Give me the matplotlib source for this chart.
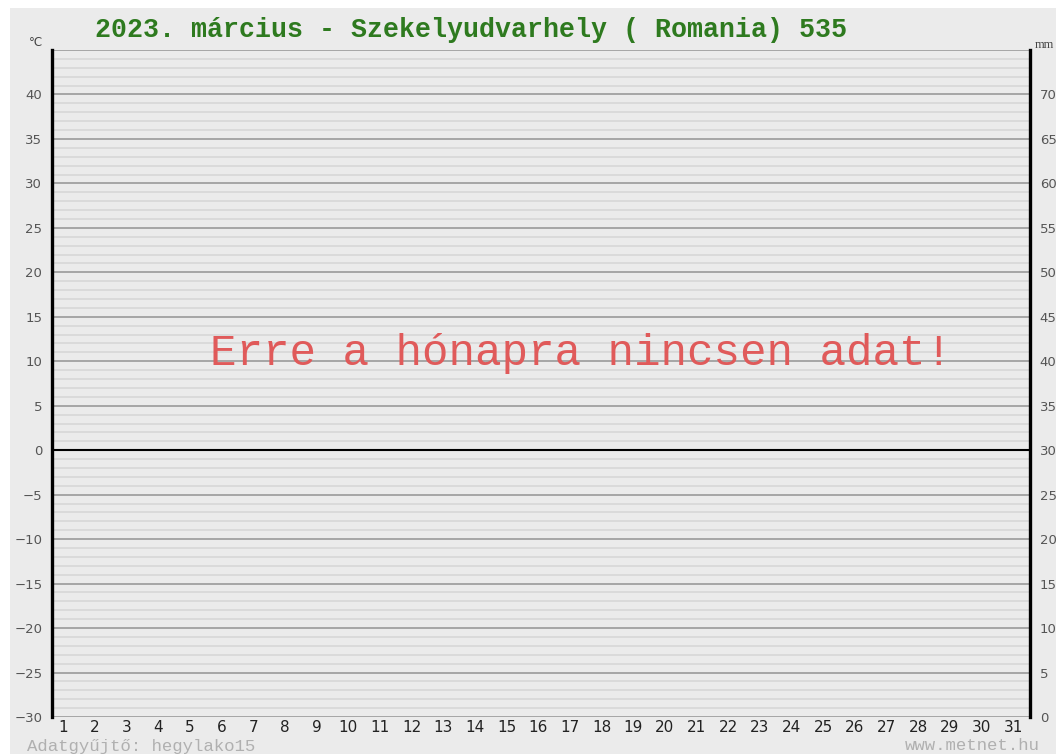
import matplotlib
matplotlib.use("Agg")
import matplotlib.pyplot as plt
from matplotlib.patches import Rectangle

days = list(range(1, 32))
temp_ticks = list(range(-30, 45, 5))
mm_ticks = list(range(0, 75, 5))
temp_min, temp_max = -30, 45
title = "2023. március - Szekelyudvarhely ( Romania) 535"
no_data = "Erre a hónapra nincsen adat!"
collector = "Adatgyűjtő: hegylako15"
site = "www.metnet.hu"

W, H = 1056, 754
fig = plt.figure(figsize=(W / 100, H / 100), dpi=100, facecolor="white")
bg = "#ebebeb"
fig.patches.append(Rectangle((10 / W, 0), 1, 1 - 8 / H, transform=fig.transFigure,
                             facecolor=bg, edgecolor="none", zorder=-10))

L, R, T, B = 52, 1030, 50, 717
ax = fig.add_axes([L / W, 1 - B / H, (R - L) / W, (B - T) / H])
ax.set_facecolor(bg)
ax.set_xlim(0.65, 31.53)
ax.set_ylim(temp_min, temp_max)

# minor gridlines every degree
for v in range(temp_min, temp_max + 1):
    if v % 5 == 0:
        continue
    ax.axhline(v, color="#d6d6d6", lw=1.1, zorder=1)
for v in range(temp_min, temp_max + 1, 5):
    if v == 0:
        ax.axhline(v, color="black", lw=1.5, zorder=3)
    else:
        ax.axhline(v, color="#9a9a9a", lw=1.2, zorder=2)

for s in ["top", "bottom"]:
    ax.spines[s].set_visible(False)
for s in ["left", "right"]:
    ax.spines[s].set_color("black")
    ax.spines[s].set_linewidth(2.4)

def fmt(t):
    return str(t).replace("-", "\u2212")

ax.set_yticks(temp_ticks)
ax.set_yticklabels([fmt(t) for t in temp_ticks], fontsize=9.5, color="#555555",
                   family="DejaVu Sans")
ax.tick_params(axis="y", length=0, pad=7)
ax.set_xticks(days)
ax.set_xticklabels([str(d) for d in days], fontsize=11, color="#222222",
                   family="DejaVu Sans")
ax.tick_params(axis="x", length=0, pad=2)

ax2 = ax.twinx()
ax2.set_ylim(temp_min + 30, temp_max + 30)
ax2.set_yticks(mm_ticks)
ax2.set_yticklabels([str(t) for t in mm_ticks], fontsize=9.5, color="#555555",
                    family="DejaVu Sans")
ax2.tick_params(axis="y", length=0, pad=7)
for s in ax2.spines.values():
    s.set_visible(False)

fig.text(95 / W, 1 - 30 / H, title, fontsize=19.2, fontweight="bold",
         color="#2e7a1f", family="Liberation Mono", va="center", ha="left")
fig.text(43 / W, 1 - 43 / H, "°C", fontsize=8.5, color="#444444",
         va="center", ha="right", family="DejaVu Sans")
fig.text(1035 / W, 1 - 45 / H, "mm", fontsize=9, color="#444444",
         va="center", ha="left", family="Liberation Serif")
ax.text(0.5 * (210 + 952) / W, 1 - 353 / H, no_data, transform=fig.transFigure,
        fontsize=31.9, color="#e05a5a", family="Liberation Mono",
        ha="center", va="center", zorder=5)
fig.text(27 / W, 1 - 746 / H, collector, fontsize=12.5, color="#b0b0b0",
         family="Liberation Mono", va="center", ha="left")
fig.text(1040 / W, 1 - 746 / H, site, fontsize=12.5, color="#b0b0b0",
         family="Liberation Mono", va="center", ha="right")

fig.savefig("out.png", dpi=100, facecolor=fig.get_facecolor())
